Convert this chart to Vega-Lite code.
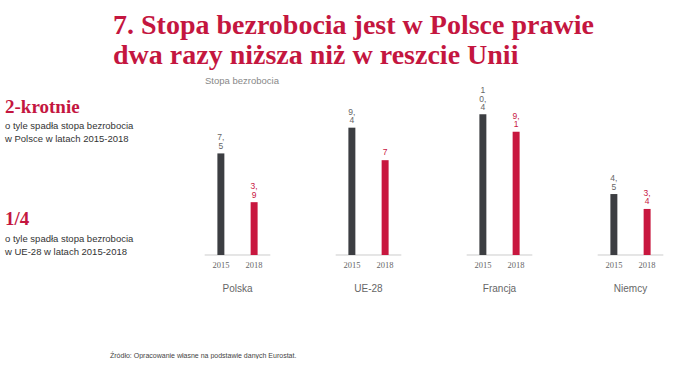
{
  "$schema": "https://vega.github.io/schema/vega-lite/v6.json",
  "padding": {"top": 11, "left": 0, "right": 0, "bottom": 0},
  "background": "white",
  "spacing": 0,
  "bounds": "flush",
  "config": {"view": {"stroke": null}},
  "title": {
    "text": ["7. Stopa bezrobocia jest w Polsce prawie", "dwa razy niższa niż w reszcie Unii"],
    "anchor": "start",
    "frame": "group",
    "dx": 113,
    "font": "Liberation Serif",
    "fontSize": 28,
    "fontWeight": "bold",
    "color": "#c4163f",
    "lineHeight": 30,
    "offset": 6
  },
  "hconcat": [
    {
      "width": 172,
      "height": 149,
      "data": {
        "values": [
          {"kind": "head", "x": 5, "row": 0.1, "text": "2-krotnie"},
          {"kind": "body", "x": 5, "row": 1.95, "text": "o tyle spadła stopa bezrobocia"},
          {"kind": "body", "x": 5, "row": 3.25, "text": "w Polsce w latach 2015-2018"},
          {"kind": "head", "x": 5, "row": 11.3, "text": "1/4"},
          {"kind": "body", "x": 5, "row": 13.3, "text": "o tyle spadła stopa bezrobocia"},
          {"kind": "body", "x": 5, "row": 14.6, "text": "w UE-28 w latach 2015-2018"},
          {"kind": "source", "x": 110, "row": 25.0, "text": "Źródło: Opracowanie własne na podstawie danych Eurostat."}
        ]
      },
      "encoding": {
        "x": {"field": "x", "type": "quantitative", "scale": {"domain": [0, 172]}, "axis": null},
        "y": {"field": "row", "type": "quantitative", "scale": {"domain": [0, 14.9], "reverse": true, "nice": false, "zero": false}, "axis": null},
        "text": {"field": "text"}
      },
      "layer": [
        {
          "transform": [{"filter": "datum.kind === 'head'"}],
          "mark": {"type": "text", "align": "left", "baseline": "middle", "font": "Liberation Serif", "fontSize": 19, "fontWeight": "bold", "color": "#c4163f"}
        },
        {
          "transform": [{"filter": "datum.kind === 'body'"}],
          "mark": {"type": "text", "align": "left", "baseline": "middle", "font": "Liberation Sans", "fontSize": 9.5, "color": "#333333"}
        },
        {
          "transform": [{"filter": "datum.kind === 'source'"}],
          "mark": {"type": "text", "align": "left", "baseline": "middle", "font": "Liberation Sans", "fontSize": 7, "color": "#444444"}
        }
      ]
    },
    {
      "width": 524,
      "height": 149,
      "title": {
        "text": "Stopa bezrobocia",
        "anchor": "start",
        "dx": 33,
        "font": "Liberation Sans",
        "fontSize": 9.5,
        "fontWeight": "normal",
        "color": "#888888",
        "offset": 1
      },
      "data": {
        "values": [
          {"country": "Polska", "year": "2015", "value": 7.5, "label": "7,\n5"},
          {"country": "Polska", "year": "2018", "value": 3.9, "label": "3,\n9"},
          {"country": "UE-28", "year": "2015", "value": 9.4, "label": "9,\n4"},
          {"country": "UE-28", "year": "2018", "value": 7.0, "label": "7"},
          {"country": "Francja", "year": "2015", "value": 10.4, "label": "1\n0,\n4"},
          {"country": "Francja", "year": "2018", "value": 9.1, "label": "9,\n1"},
          {"country": "Niemcy", "year": "2015", "value": 4.5, "label": "4,\n5"},
          {"country": "Niemcy", "year": "2018", "value": 3.4, "label": "3,\n4"}
        ]
      },
      "encoding": {
        "x": {
          "field": "country",
          "type": "nominal",
          "sort": ["Polska", "UE-28", "Francja", "Niemcy"],
          "scale": {"paddingInner": 0.5, "paddingOuter": 0.25},
          "axis": {"title": null, "ticks": false, "domain": false, "labelAngle": 0, "labelPadding": 28, "labelFont": "Liberation Sans", "labelFontSize": 10, "labelColor": "#666666"}
        }
      },
      "layer": [
        {
          "transform": [{"filter": "datum.year === '2015'"}],
          "mark": {"type": "bar", "fill": null, "stroke": "#dddddd", "strokeWidth": 1},
          "encoding": {
            "y": {"datum": 0, "type": "quantitative", "scale": {"domain": [0, 11.0]}, "axis": null},
            "y2": {"datum": 0}
          }
        },
        {
          "mark": {"type": "bar"},
          "encoding": {
            "xOffset": {"field": "year", "type": "nominal", "scale": {"paddingInner": 0.79, "paddingOuter": 0.38}},
            "y": {"field": "value", "type": "quantitative", "scale": {"domain": [0, 11.0]}, "axis": null},
            "color": {"field": "year", "type": "nominal", "scale": {"domain": ["2015", "2018"], "range": ["#3c3e42", "#c8173f"]}, "legend": null}
          }
        },
        {
          "transform": [{"filter": "length(split(datum.label, '\\n')) == 1"}],
          "mark": {"type": "text", "baseline": "top", "dy": -12, "lineBreak": "\n", "font": "Liberation Sans", "fontSize": 8.5, "lineHeight": 8.5},
          "encoding": {
            "xOffset": {"field": "year", "type": "nominal", "scale": {"paddingInner": 0.79, "paddingOuter": 0.38}},
            "y": {"field": "value", "type": "quantitative", "scale": {"domain": [0, 11.0]}, "axis": null},
            "text": {"field": "label"},
            "color": {"field": "year", "type": "nominal", "scale": {"domain": ["2015", "2018"], "range": ["#666666", "#c8173f"]}, "legend": null},
            "fontWeight": {"field": "year", "type": "nominal", "scale": {"domain": ["2015", "2018"], "range": ["normal", "bold"]}, "legend": null}
          }
        },
        {
          "transform": [{"filter": "length(split(datum.label, '\\n')) == 2"}],
          "mark": {"type": "text", "baseline": "top", "dy": -20, "lineBreak": "\n", "font": "Liberation Sans", "fontSize": 8.5, "lineHeight": 8.5},
          "encoding": {
            "xOffset": {"field": "year", "type": "nominal", "scale": {"paddingInner": 0.79, "paddingOuter": 0.38}},
            "y": {"field": "value", "type": "quantitative", "scale": {"domain": [0, 11.0]}, "axis": null},
            "text": {"field": "label"},
            "color": {"field": "year", "type": "nominal", "scale": {"domain": ["2015", "2018"], "range": ["#666666", "#c8173f"]}, "legend": null},
            "fontWeight": {"field": "year", "type": "nominal", "scale": {"domain": ["2015", "2018"], "range": ["normal", "bold"]}, "legend": null}
          }
        },
        {
          "transform": [{"filter": "length(split(datum.label, '\\n')) == 3"}],
          "mark": {"type": "text", "baseline": "top", "dy": -28, "lineBreak": "\n", "font": "Liberation Sans", "fontSize": 8.5, "lineHeight": 8.5},
          "encoding": {
            "xOffset": {"field": "year", "type": "nominal", "scale": {"paddingInner": 0.79, "paddingOuter": 0.38}},
            "y": {"field": "value", "type": "quantitative", "scale": {"domain": [0, 11.0]}, "axis": null},
            "text": {"field": "label"},
            "color": {"field": "year", "type": "nominal", "scale": {"domain": ["2015", "2018"], "range": ["#666666", "#c8173f"]}, "legend": null},
            "fontWeight": {"field": "year", "type": "nominal", "scale": {"domain": ["2015", "2018"], "range": ["normal", "bold"]}, "legend": null}
          }
        },
        {
          "mark": {"type": "text", "baseline": "top", "dy": 6, "font": "Liberation Serif", "fontSize": 8.5, "color": "#666666"},
          "encoding": {
            "xOffset": {"field": "year", "type": "nominal", "scale": {"paddingInner": 0.79, "paddingOuter": 0.38}},
            "y": {"datum": 0, "type": "quantitative", "scale": {"domain": [0, 11.0]}, "axis": null},
            "text": {"field": "year"}
          }
        }
      ],
      "resolve": {"scale": {"color": "independent"}}
    }
  ]
}
